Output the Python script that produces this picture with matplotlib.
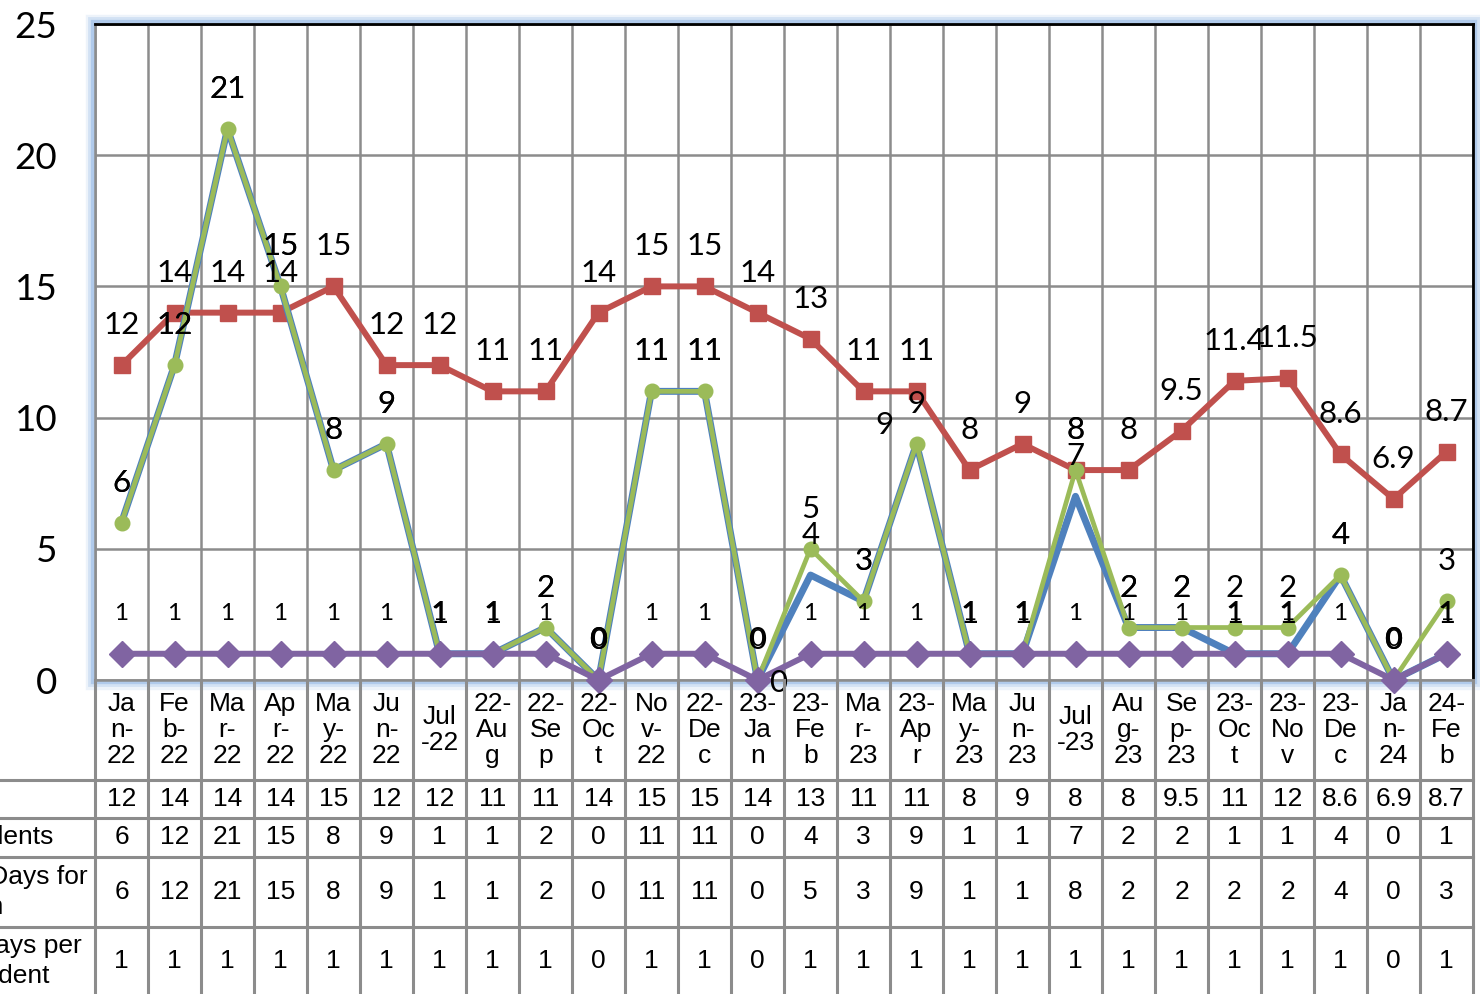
import matplotlib
matplotlib.use("Agg")
import matplotlib.pyplot as plt
from matplotlib.patches import Rectangle
import numpy as np

# ---------------- data ----------------
categories = ["Jan-22", "Feb-22", "Mar-22", "Apr-22", "May-22", "Jun-22", "Jul-22",
              "22-Aug", "22-Sep", "22-Oct", "Nov-22", "22-Dec", "23-Jan", "23-Feb",
              "Mar-23", "23-Apr", "May-23", "Jun-23", "Jul-23", "Aug-23", "Sep-23",
              "23-Oct", "23-Nov", "23-Dec", "Jan-24", "24-Feb"]
cat_labels = ["Ja\nn-\n22", "Fe\nb-\n22", "Ma\nr-\n22", "Ap\nr-\n22", "Ma\ny-\n22",
              "Ju\nn-\n22", "Jul\n-22", "22-\nAu\ng", "22-\nSe\np", "22-\nOc\nt",
              "No\nv-\n22", "22-\nDe\nc", "23-\nJa\nn", "23-\nFe\nb", "Ma\nr-\n23",
              "23-\nAp\nr", "Ma\ny-\n23", "Ju\nn-\n23", "Jul\n-23", "Au\ng-\n23",
              "Se\np-\n23", "23-\nOc\nt", "23-\nNo\nv", "23-\nDe\nc", "Ja\nn-\n24",
              "24-\nFe\nb"]
avg_days = [12, 14, 14, 14, 15, 12, 12, 11, 11, 14, 15, 15, 14, 13, 11, 11, 8, 9, 8, 8,
            9.5, 11.4, 11.5, 8.6, 6.9, 8.7]
incidents = [6, 12, 21, 15, 8, 9, 1, 1, 2, 0, 11, 11, 0, 4, 3, 9, 1, 1, 7, 2, 2, 1, 1, 4, 0, 1]
days_for = [6, 12, 21, 15, 8, 9, 1, 1, 2, 0, 11, 11, 0, 5, 3, 9, 1, 1, 8, 2, 2, 2, 2, 4, 0, 3]
days_per = [1, 1, 1, 1, 1, 1, 1, 1, 1, 0, 1, 1, 0, 1, 1, 1, 1, 1, 1, 1, 1, 1, 1, 1, 0, 1]
row_label_lines = [
    [],
    [("No. of Incidents", 0)],
    [("Total Days for", 0), ("Investigation", 1)],
    [("Average Days per", 0), ("Incident", 1)],
]
yticks = [0, 5, 10, 15, 20, 25]

# ---------------- style ----------------
RED, BLUE, GREEN, PURPLE = "#C0504D", "#4F81BD", "#9BBB59", "#8064A2"
GRID = "#8c8c8c"
W, H = 1480, 994
PX = 72 / 100.0  # points per pixel

fig = plt.figure(figsize=(W / 100, H / 100), dpi=100)
fig.patch.set_facecolor("white")

L, R, T, B = 95, 1473, 24, 680
ax = fig.add_axes([L / W, 1 - B / H, (R - L) / W, (B - T) / H])
n = len(categories)
x = np.arange(n)
ax.set_xlim(-0.5, n - 0.5)
ax.set_ylim(0, 25)
ax.set_yticks(yticks)
ax.set_yticklabels([str(t) for t in yticks], fontsize=26.5, family="Lato")
ax.tick_params(axis="y", length=0, pad=27)
ax.set_xticks([])
ax.set_xticks(np.arange(-0.5, n, 1), minor=True)
ax.tick_params(axis="x", which="both", length=0, labelbottom=False)
ax.grid(axis="y", which="major", color=GRID, lw=1.8)
ax.grid(axis="x", which="minor", color=GRID, lw=1.8)
ax.set_axisbelow(True)
ax.spines["top"].set_color("black"); ax.spines["top"].set_linewidth(2)
ax.spines["right"].set_color("black"); ax.spines["right"].set_linewidth(2)
ax.spines["left"].set_color(GRID); ax.spines["left"].set_linewidth(1.8)
ax.spines["bottom"].set_color(GRID); ax.spines["bottom"].set_linewidth(1.8)

# glow around plot area
for lw, a in [(14, 0.12), (10, 0.2), (6, 0.35)]:
    fig.patches.append(Rectangle((L / W, 1 - B / H), (R - L) / W, (B - T) / H,
                                 transform=fig.transFigure, fill=False,
                                 edgecolor="#6fa0dc", lw=lw, alpha=a, zorder=-1))

# series
ax.plot(x, avg_days, color=RED, lw=4.3, marker="s", ms=11.5, clip_on=False, zorder=3)
ax.plot(x, incidents, color=BLUE, lw=5.0, solid_joinstyle="round",
        solid_capstyle="round", clip_on=False, zorder=4)
ax.plot(x, days_for, color=GREEN, lw=3.4, marker="o", ms=10.5, clip_on=False, zorder=5)
ax.plot(x, days_per, color=PURPLE, lw=4.3, marker="D", ms=13, clip_on=False, zorder=6)

OFF = 40 * PX
special = {("inc", 15): (-32 * PX, 19 * PX), ("inc", 12): (21 * PX, -3 * PX)}
def label_series(vals, key, fs):
    for i, v in enumerate(vals):
        dx, dy = special.get((key, i), (0, OFF))
        ax.annotate(f"{v:g}", (i, v), xytext=(dx, dy), textcoords="offset points",
                    ha="center", va="center", fontsize=fs, family="Lato",
                    annotation_clip=False, zorder=10)

label_series(avg_days, "avg", 22.5)
label_series(incidents, "inc", 22.5)
label_series(days_for, "for", 22.5)
label_series(days_per, "per", 17.5)

# ---------------- data table ----------------
tax = fig.add_axes([0, 0, R / W, (H - B) / H])
tax.set_xlim(-0.5 - L / 53.0, n - 0.5)
tax.set_ylim(H - B, 0)
tax.axis("off")
tax.patch.set_alpha(0)

row_edges = [100, 138, 177, 247]
row_centers = [119, 157.5, 212, 281]
for k in range(n + 1):
    tax.plot([k - 0.5, k - 0.5], [0, H - B], color=GRID, lw=2.2, clip_on=False)
for yy in row_edges:
    tax.plot([-0.5 - L / 53.0, n - 0.5], [yy, yy], color=GRID, lw=2.2, clip_on=False)

TF = "Liberation Sans"
for i, lab in enumerate(cat_labels):
    tax.text(i, 50, lab, ha="center", va="center", fontsize=19, family=TF,
             linespacing=1.13)

def fmt(v):
    s = f"{v:g}"
    return str(int(v + 0.5)) if len(s) > 3 else s

rows = [avg_days, incidents, days_for, days_per]
for r, vals in enumerate(rows):
    for i, v in enumerate(vals):
        tax.text(i, row_centers[r], fmt(v), ha="center", va="center", fontsize=19,
                 family=TF)

# row labels (partly outside the picture, as in the source)
xr = {1: [53], 2: [88, 4], 3: [82, 50]}
for r, lines in enumerate(row_label_lines):
    for j, (txt, ln) in enumerate(lines):
        nlines = len(lines)
        yc = row_centers[r] + (ln - (nlines - 1) / 2) * 30
        xc = -0.5 - L / 53.0 + xr[r][j] / 53.0
        tax.text(xc, yc, txt, ha="right", va="center", fontsize=19, family=TF)

fig.savefig("out.png", dpi=100)
